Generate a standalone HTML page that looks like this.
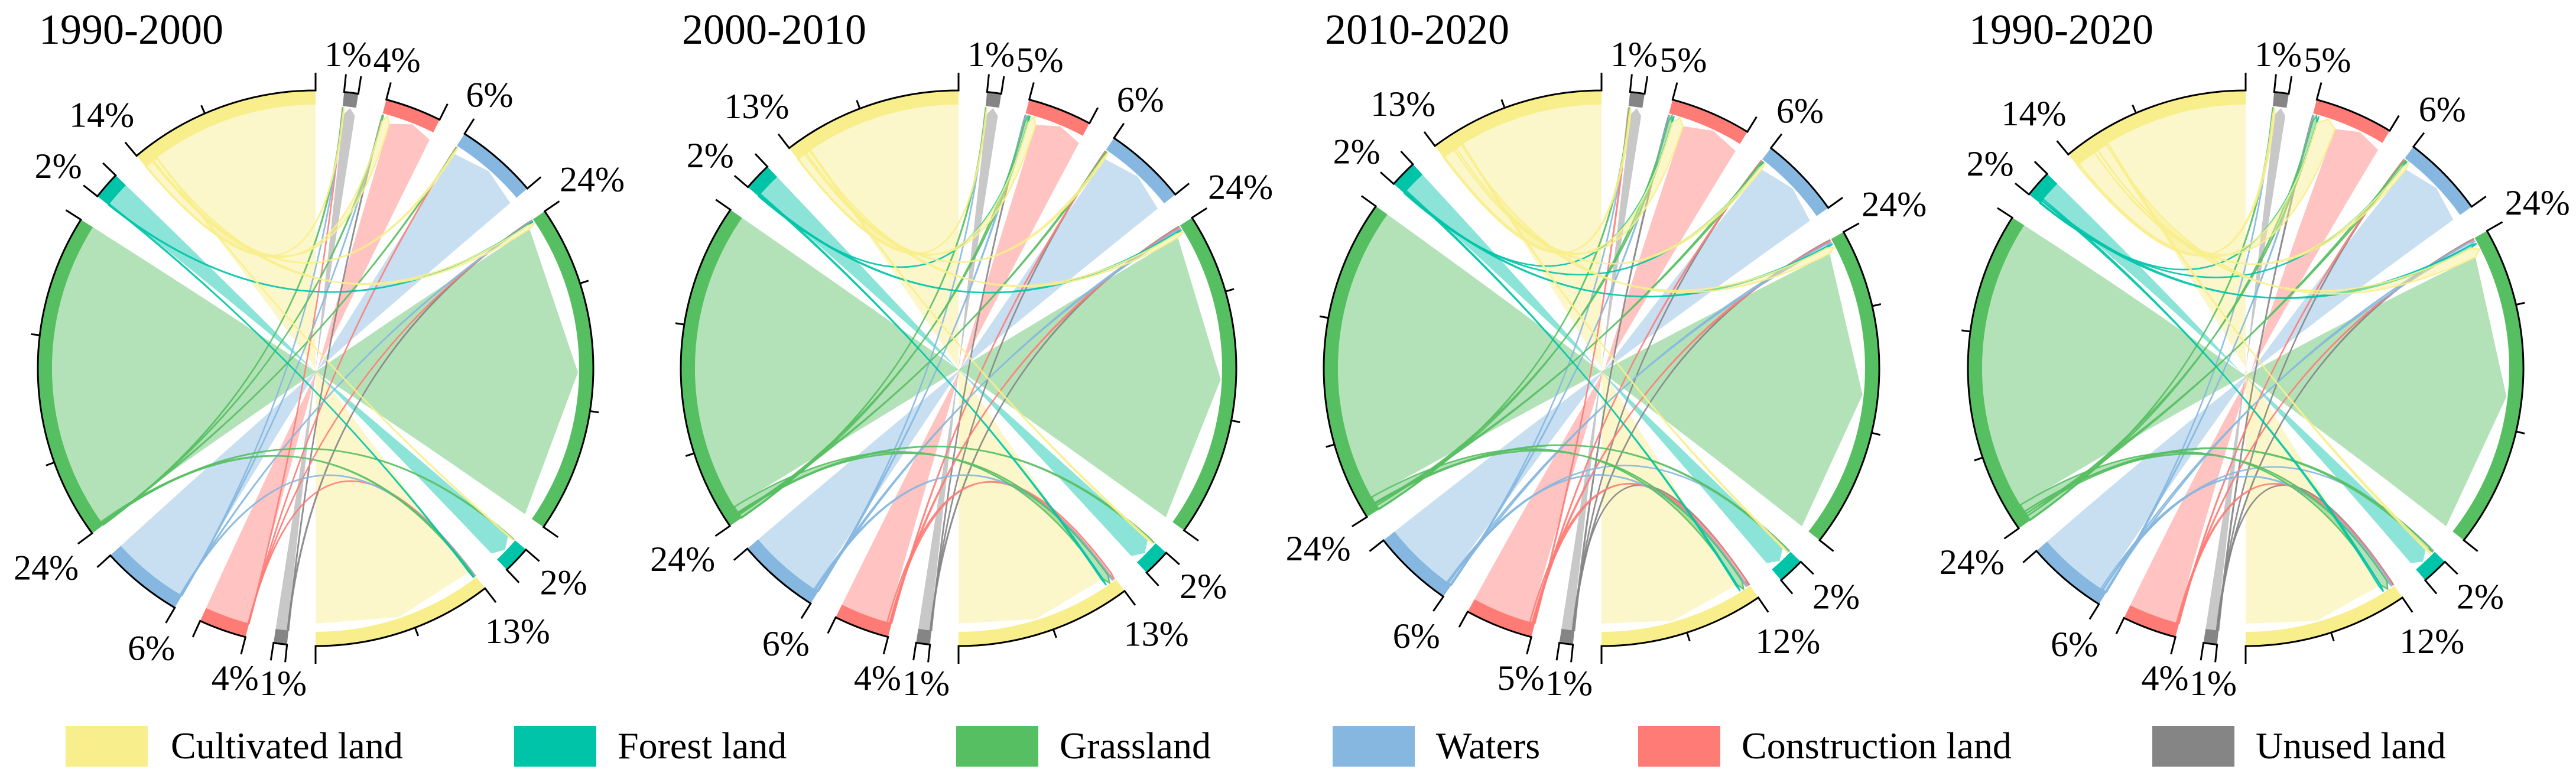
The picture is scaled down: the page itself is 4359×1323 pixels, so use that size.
<!DOCTYPE html>
<html><head><meta charset="utf-8"><style>
html,body{margin:0;padding:0;background:#fff;}
svg{display:block;font-family:"Liberation Serif","Times New Roman",Times,"DejaVu Serif",serif;}
svg text{font-family:"Liberation Serif","Times New Roman",Times,"DejaVu Serif",serif;fill:#000;}
</style></head><body>
<svg id="fig" width="4359" height="1323" viewBox="0 0 4359 1323" xmlns="http://www.w3.org/2000/svg" font-family="'Liberation Serif', 'Times New Roman', Times, serif">
<g id="legend">
<rect x="111" y="1228" width="139" height="69" fill="#F8EE8C"/>
<text x="289" y="1283" font-size="64">Cultivated land</text>
<rect x="870" y="1228" width="139" height="69" fill="#00C4A8"/>
<text x="1045" y="1283" font-size="64">Forest land</text>
<rect x="1618" y="1228" width="139" height="69" fill="#56BF62"/>
<text x="1793" y="1283" font-size="64">Grassland</text>
<rect x="2255" y="1228" width="139" height="69" fill="#85B7E0"/>
<text x="2430" y="1283" font-size="64">Waters</text>
<rect x="2772" y="1228" width="139" height="69" fill="#FF7B76"/>
<text x="2947" y="1283" font-size="64">Construction land</text>
<rect x="3642" y="1228" width="139" height="69" fill="#858585"/>
<text x="3817" y="1283" font-size="64">Unused land</text>
</g>
</svg>
<script>
// categories: Cultivated, Forest, Grassland, Waters, Construction, Unused
const categories = ["Cultivated land","Forest land","Grassland","Waters","Construction land","Unused land"];
const colors = ["#F8EE8C","#00C4A8","#56BF62","#85B7E0","#FF7B76","#858585"];
const periods = ["1990-2000","2000-2010","2010-2020","1990-2020"];
// transition matrices (% of area), rows = from, cols = to
const flows1990_2000 = [
 [12.9,0.05,0.3,0.1,0.6,0.05],
 [0.05,1.9,0.05,0,0,0],
 [0.1,0.05,23.7,0.05,0.05,0.05],
 [0.05,0,0.05,5.85,0.03,0.02],
 [0.02,0,0.02,0.02,3.4,0.01],
 [0,0,0.05,0,0.03,0.9]
];
const flows2000_2010 = [
 [11.8,0.1,0.3,0.15,0.6,0.05],
 [0.1,1.8,0.1,0,0.02,0],
 [0.5,0.1,23,0.1,0.25,0.05],
 [0.1,0,0.15,5.65,0.08,0.02],
 [0.2,0,0.1,0.05,3.65,0],
 [0,0,0.05,0.02,0.03,0.9]
];
const flows2010_2020 = [
 [11.2,0.1,0.5,0.2,0.9,0.1],
 [0.1,1.75,0.1,0.03,0.02,0],
 [0.5,0.1,22.9,0.15,0.3,0.05],
 [0.1,0.02,0.2,5.6,0.06,0.02],
 [0.2,0,0.1,0.05,4.6,0.05],
 [0.02,0,0.05,0.02,0.06,0.85]
];
const flows1990_2020 = [
 [11.1,0.15,0.8,0.3,1.5,0.15],
 [0.15,1.6,0.2,0.03,0.02,0],
 [0.6,0.2,22.6,0.2,0.35,0.05],
 [0.15,0.02,0.25,5.5,0.06,0.02],
 [0.1,0,0.05,0.05,3.8,0],
 [0.02,0,0.05,0.02,0.06,0.85]
];
// printed percentage labels [C,F,G,W,Con,U]
const labelsFrom = [[14,2,24,6,4,1],[13,2,24,6,4,1],[13,2,24,6,5,1],[14,2,24,6,4,1]];
const labelsTo = [[13,2,24,6,4,1],[13,2,24,6,5,1],[12,2,24,6,5,1],[12,2,24,6,5,1]];
const allFlows = [flows1990_2000,flows2000_2010,flows2010_2020,flows1990_2020];

const NS="http://www.w3.org/2000/svg";
const svg=document.getElementById('fig');
const centersX=[534,1622,2710,3800], CY=623;
const RO=470, RI=446, RT=432, RTIP=444, GAP=5.9;
const order=[5,4,3,2,1,0];
const titleX=[66,1154,2242,3332];
function P(cx,r,d){const a=d*Math.PI/180;return [cx+r*Math.sin(a),CY-r*Math.cos(a)];}
function f(p){return p[0].toFixed(2)+" "+p[1].toFixed(2);}
function mk(tag,attrs,parent){const e=document.createElementNS(NS,tag);for(const k in attrs)e.setAttribute(k,attrs[k]);parent.appendChild(e);return e;}

allFlows.forEach((M,ci)=>{
  const cx=centersX[ci];
  const g=mk('g',{},svg);
  
  
  const t=mk('text',{x:titleX[ci],y:74,'font-size':72},g);
  t.textContent=periods[ci];
  
  
  const rowS=M.map(r=>r.reduce((a,b)=>a+b,0));
  const colS=[0,1,2,3,4,5].map(j=>M.reduce((a,r)=>a+r[j],0));
  const total=rowS.reduce((a,b)=>a+b,0)+colS.reduce((a,b)=>a+b,0);
  const sc=(360-12*GAP)/total;
  const secR={},secL={};
  let a=0;
  order.forEach(k=>{a+=GAP;secR[k]=[a,a+colS[k]*sc];a+=colS[k]*sc;});
  order.forEach(k=>{a+=GAP;secL[k]=[a,a+rowS[k]*sc];a+=rowS[k]*sc;});
  const srcPos={},tgtPos={};
  order.forEach(i=>{let p=secL[i][0];
    const tg=order.filter(j=>j!==i).concat([i]);
    tg.forEach(j=>{const w=M[i][j]*sc;srcPos[i+'_'+j]=[p,p+w];p+=w;});});
  order.forEach(j=>{let p=secR[j][0];
    const sr=order.filter(i=>i!==j).concat([j]);
    sr.forEach(i=>{const w=M[i][j]*sc;tgtPos[i+'_'+j]=[p,p+w];p+=w;});});
  const gr=mk('g',{},g);
  
  
  function ribbon(i,j,thin){
    const s=srcPos[i+'_'+j],tt=tgtPos[i+'_'+j];
    if(M[i][j]<=0)return;
    const c=[cx,CY];
    const lg=(s[1]-s[0])>180?1:0;
    const d="M"+f(P(cx,RI,s[0]))+" A"+RI+" "+RI+" 0 "+lg+" 1 "+f(P(cx,RI,s[1]))+
      " Q"+f(c)+" "+f(P(cx,RT,tt[1]))+" L"+f(P(cx,RTIP,(tt[0]+tt[1])/2))+" L"+f(P(cx,RT,tt[0]))+
      " Q"+f(c)+" "+f(P(cx,RI,s[0]))+" Z";
    const p=mk('path',{d:d,fill:colors[i],'fill-opacity':0.45},gr);
    if(thin){p.setAttribute('stroke',colors[i]);p.setAttribute('stroke-width','2.5');p.setAttribute('stroke-opacity','0.9');}
    
    
  }
  order.forEach(i=>ribbon(i,i,false));
  order.forEach(i=>order.forEach(j=>{if(i!==j)ribbon(i,j,true);}));
  function sector(sec,k,lab,side){
    const [a0,a1]=sec;
    const lg=(a1-a0)>180?1:0;
    const d="M"+f(P(cx,RO,a0))+" A"+RO+" "+RO+" 0 "+lg+" 1 "+f(P(cx,RO,a1))+" L"+f(P(cx,RI,a1))+
      " A"+RI+" "+RI+" 0 "+lg+" 0 "+f(P(cx,RI,a0))+" Z";
    const b=mk('path',{d:d,fill:colors[k]},g);
    
    
    let ax="M"+f(P(cx,RO+30,a0))+" L"+f(P(cx,RO,a0))+" A"+RO+" "+RO+" 0 "+lg+" 1 "+f(P(cx,RO,a1))+" L"+f(P(cx,RO+30,a1));
    const span=a1-a0,valPct=span/sc;
    for(let v=5.8;v<valPct-0.5;v+=9.3){const an=a0+v*sc;ax+=" M"+f(P(cx,RO,an))+" L"+f(P(cx,RO+15,an));}
    const axis=mk('path',{d:ax,fill:'none',stroke:'#000','stroke-width':3},g);
    
    
    const txt=lab+"%";
    const hw=txt.length===2?40:55, hh=21;
    const ar=a0*Math.PI/180;
    const r=RO+30+10+hw*Math.abs(Math.sin(ar))+hh*Math.abs(Math.cos(ar));
    const pt=P(cx,r,a0);
    const te=mk('text',{x:pt[0].toFixed(1),y:(pt[1]+21).toFixed(1),'font-size':60,'text-anchor':'middle'},g);
    te.textContent=txt;
    
    
  }
  order.forEach(k=>sector(secR[k],k,labelsTo[ci][k],'to'));
  order.forEach(k=>sector(secL[k],k,labelsFrom[ci][k],'from'));
});
</script>
</body></html>
